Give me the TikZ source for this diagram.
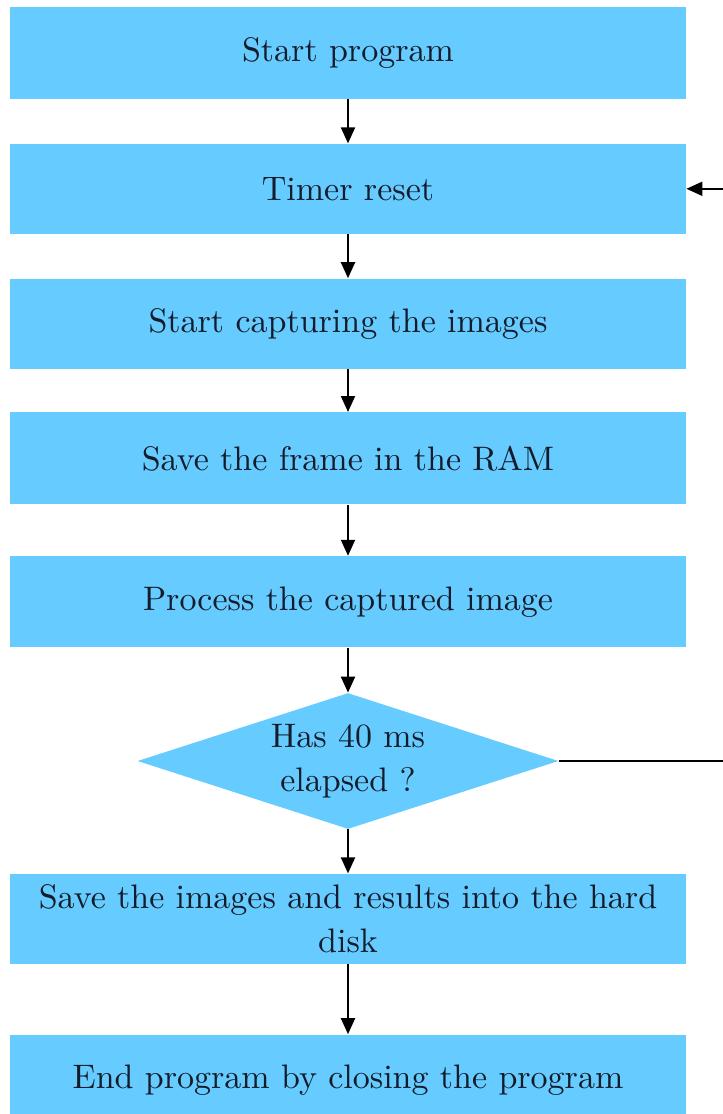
\documentclass[tikz,border=0pt]{standalone}
\usepackage{fontspec}
\setmainfont{lmroman10-regular.otf}
\usetikzlibrary{positioning,shapes.geometric,arrows.meta}
\definecolor{txt}{HTML}{141C2C}
\definecolor{blF}{HTML}{66CCFF}
\definecolor{lnB}{HTML}{000000}

\begin{document}
\begin{tikzpicture}[
  font=\fontsize{17pt}{22pt}\selectfont,text=txt,
  >={Triangle[length=8pt,width=7pt]},
  bx/.style={fill=blF,draw=none,align=center,inner sep=0pt,minimum width=338pt,minimum height=45pt},
  dec/.style={diamond,fill=blF,draw=none,align=center,inner sep=0pt,aspect=3.1,
              minimum width=210.5pt,minimum height=68pt},
  flow/.style={->,line width=1pt,lnB},
  ]
\useasboundingbox (0,0) rectangle (361.5pt,-557pt);

% ================= main column =================
\node[bx,minimum height=46pt] (start) at (174pt,-26.5pt) {Start program};
\node[bx,below=22pt of start] (timer) {Timer reset};
\node[bx,below=22pt of timer] (capture) {Start capturing the images};
\node[bx,minimum height=46pt,below=21.5pt of capture] (frame) {Save the frame in the RAM};
\node[bx,minimum height=45.5pt,below=25.5pt of frame] (proc) {Process the captured image};
\node[dec,below=22.5pt of proc] (check) {Has 40 ms\\elapsed ?};
\node[bx,below=22pt of check] (save) {Save the images and results into the hard\\disk};
\node[bx,minimum height=46pt,below=35pt of save] (stop) {End program by closing the program};

\foreach \a/\b in {start/timer,timer/capture,capture/frame,frame/proc,proc/check,check/save,save/stop}
  {\draw[flow] (\a) -- (\b);}

% ---- loop back to the timer (runs past the right edge) ----
\coordinate (loopR) at (372pt,0);
\draw[flow] (check.east) -- (check.east -| loopR) |- (timer.east);

\end{tikzpicture}
\end{document}
